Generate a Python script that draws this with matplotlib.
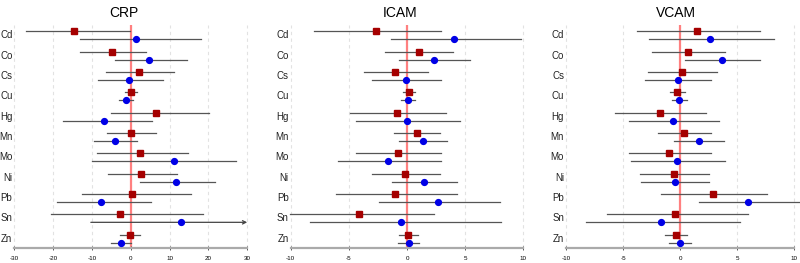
import matplotlib
matplotlib.use("Agg")
import matplotlib.pyplot as plt

plt.rcParams['font.family'] = ['Liberation Sans', 'DejaVu Sans']

metals = ['Cd', 'Co', 'Cs', 'Cu', 'Hg', 'Mn', 'Mo', 'Ni', 'Pb', 'Sn', 'Zn']

# CRP  (red = square series, blue = circle series): estimate, lower, upper
crp_red = [-14.7, -4.9, 2.1, 0.0, 6.6, 0.0, 2.4, 2.7, 0.3, -2.9, -0.3]
crp_red_lo = [-27.1, -13.0, -6.3, -1.6, -5.2, -6.1, -8.7, -5.8, -12.7, -20.5, -2.9]
crp_red_hi = [-0.2, 3.9, 11.2, 1.7, 20.1, 6.6, 14.8, 11.9, 15.5, 18.6, 2.5]
crp_blue = [1.3, 4.6, -0.4, -1.3, -6.8, -4.1, 11.1, 11.7, -7.8, 13.0, -2.6]
crp_blue_lo = [-13.2, -4.2, -8.4, -3.0, -17.6, -9.6, -10.0, 2.5, -19.0, -10.3, -5.1]
crp_blue_hi = [18.2, 14.4, 8.2, 0.5, 5.4, 1.7, 27.0, 21.7, 5.1, 45.0, 0.0]

# ICAM
icam_red = [-2.64, 1.0, -1.0, 0.17, -0.86, 0.83, -0.8, -0.17, -1.03, -4.1, 0.11]
icam_red_lo = [-7.97, -1.86, -3.67, -0.32, -4.87, -1.15, -4.41, -3.0, -6.07, -10.1, -0.72]
icam_red_hi = [2.92, 3.93, 1.78, 0.72, 3.32, 2.87, 2.95, 2.81, 4.27, 2.29, 0.92]
icam_blue = [4.04, 2.32, -0.09, 0.06, 0.0, 1.35, -1.6, 1.49, 2.64, -0.49, 0.14]
icam_blue_lo = [-1.35, -0.66, -3.04, -0.54, -4.38, -0.69, -5.93, -1.26, -2.38, -8.34, -0.77]
icam_blue_hi = [9.8, 5.39, 2.95, 0.69, 4.56, 3.41, 2.95, 4.33, 8.02, 8.1, 1.06]

# VCAM
vcam_red = [1.47, 0.66, 0.19, -0.28, -1.8, 0.34, -0.98, -0.57, 2.88, -0.42, -0.39]
vcam_red_lo = [-3.75, -2.5, -2.82, -0.89, -5.68, -1.94, -4.45, -3.49, -1.68, -6.38, -1.36]
vcam_red_hi = [6.96, 3.93, 3.23, 0.39, 2.23, 2.67, 2.67, 2.5, 7.61, 5.91, 0.57]
vcam_blue = [2.58, 3.64, -0.19, -0.07, -0.6, 1.65, -0.28, -0.48, 5.97, -1.71, -0.01]
vcam_blue_lo = [-2.73, 0.42, -3.05, -0.69, -4.48, -0.51, -4.31, -3.4, 1.68, -8.22, -0.98]
vcam_blue_hi = [8.19, 6.96, 2.7, 0.6, 3.43, 3.81, 3.96, 2.55, 10.6, 5.24, 0.98]

panels = [
    ('CRP', 30, 10, (crp_red, crp_red_lo, crp_red_hi), (crp_blue, crp_blue_lo, crp_blue_hi)),
    ('ICAM', 10, 5, (icam_red, icam_red_lo, icam_red_hi), (icam_blue, icam_blue_lo, icam_blue_hi)),
    ('VCAM', 10, 5, (vcam_red, vcam_red_lo, vcam_red_hi), (vcam_blue, vcam_blue_lo, vcam_blue_hi)),
]

# axes boxes in pixels (left, right) and title centres
boxes = [(5.1, 256.5), (281.4, 532.6), (556.9, 803.5)]
title_x = [124, 400, 676]

W, H = 800, 263
fig = plt.figure(figsize=(8, 2.63), dpi=100)

off = 0.197
ys = list(range(len(metals)))

for (name, lim, step, red, blue), (l, r), tx in zip(panels, boxes, title_x):
    ax = fig.add_axes([l / W, 1 - 248 / H, (r - l) / W, (248 - 25) / H])
    ax.set_xlim(-lim * 1.08, lim * 1.08)
    ax.set_ylim(10.46, -0.51)

    ticks = list(range(-lim, lim + 1, step))
    for t in ticks:
        ax.axvline(t, color='#e2e2e2', lw=0.8, ls=(0, (3, 3)), zorder=0)
    ax.axvline(0, color='#ff8080', lw=1.6, zorder=1)

    for k, (est, lo, hi) in enumerate([red, blue]):
        yy = [y - off if k == 0 else y + off for y in ys]
        for y, e, a, b in zip(yy, est, lo, hi):
            if b > lim and name == 'CRP':
                ax.annotate('', xy=(lim, y), xytext=(a, y),
                            arrowprops=dict(arrowstyle='->', color='#444444', lw=0.9,
                                            mutation_scale=6, shrinkA=0, shrinkB=0))
            else:
                ax.plot([a, b], [y, y], color='#555555', lw=0.9, zorder=2)
        if k == 0:
            ax.plot(est, yy, 's', color='#a50000', ms=3.8, zorder=3)
        else:
            ax.plot(est, yy, 'o', color='#0000e6', ms=4.2, zorder=3)

    for y, m in zip(ys, metals):
        ax.text(-lim * 1.017, y, m, ha='right', va='center', fontsize=7, color='#222222')

    for s in ['top', 'right', 'left']:
        ax.spines[s].set_visible(False)
    ax.spines['bottom'].set_color('#aaaaaa')
    ax.spines['bottom'].set_linewidth(1.6)
    ax.set_xticks(ticks)
    ax.set_xticklabels([str(t) for t in ticks], fontsize=4.5)
    ax.spines['bottom'].set_bounds(-lim, lim)
    ax.tick_params(axis='x', length=3, width=0.7, color='#555555', pad=4.5, direction='inout')
    ax.set_yticks([])

    fig.text(tx / W, 1 - 13 / H, name, ha='center', va='center', fontsize=10)

fig.savefig('out.png', dpi=100)
